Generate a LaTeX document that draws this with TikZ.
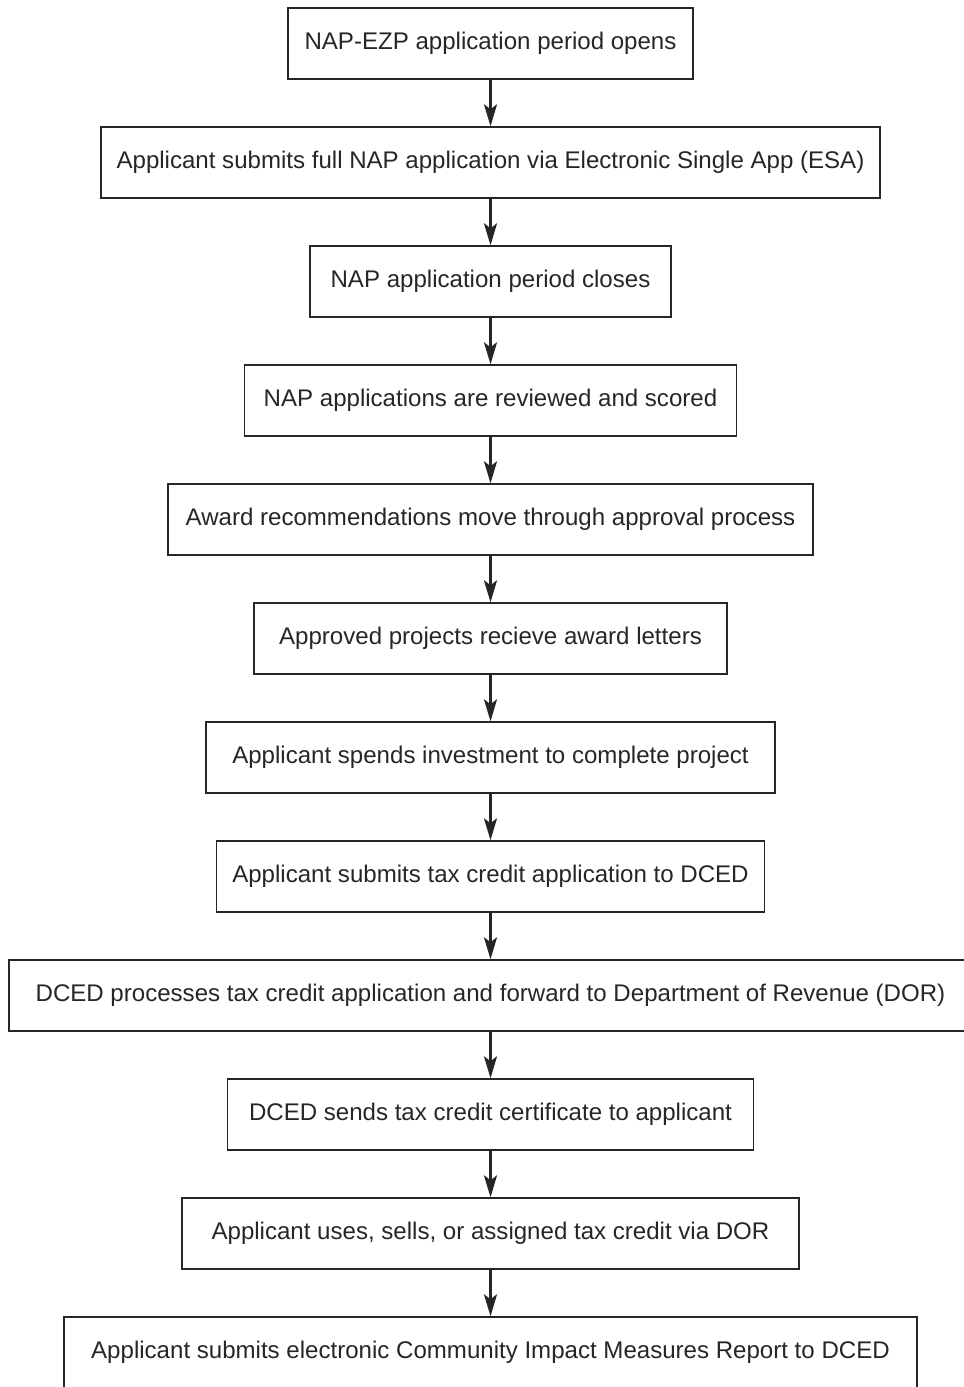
\documentclass[tikz,border=0pt]{standalone}
\usepackage{fontspec}
\setmainfont{Liberation Sans}
\usepackage{tikz}
\usetikzlibrary{arrows.meta}

\begin{document}
\begin{tikzpicture}[x=0.02cm,y=-0.02cm,
	stepbox/.style={draw=black!85,line width=0.8pt,minimum height=1.42cm,inner sep=0pt,
		text=black!85,font=\fontsize{13.7}{16}\selectfont},
	flow/.style={line width=1.6pt,black!85,-{Stealth[length=0.44cm,width=0.26cm,inset=0.1cm]}}]
\useasboundingbox (0,0) rectangle (964,1387);

\foreach \i/\w/\t in {
	1/405/{NAP-EZP application period opens},
	2/779/{Applicant submits full NAP application via Electronic Single App (ESA)},
	3/361/{NAP application period closes},
	4/492/{NAP applications are reviewed and scored},
	5/645/{Award recommendations move through approval process},
	6/473/{Approved projects recieve award letters},
	7/569/{Applicant spends investment to complete project},
	8/548/{Applicant submits tax credit application to DCED},
	9/963/{DCED processes tax credit application and forward to Department of Revenue (DOR)},
	10/526/{DCED sends tax credit certificate to applicant},
	11/617/{Applicant uses, sells, or assigned tax credit via DOR},
	12/853/{Applicant submits electronic Community Impact Measures Report to DCED}}
	{
	\node[stepbox,minimum width=\w*0.02cm] (s\i) at (490.5,{43.5+119*(\i-1)}) {\t};
	}

\foreach \i [evaluate=\i as \j using int(\i+1)] in {1,...,11}
	{
	\draw[flow] (s\i) -- (s\j);
	}
\end{tikzpicture}
\end{document}
